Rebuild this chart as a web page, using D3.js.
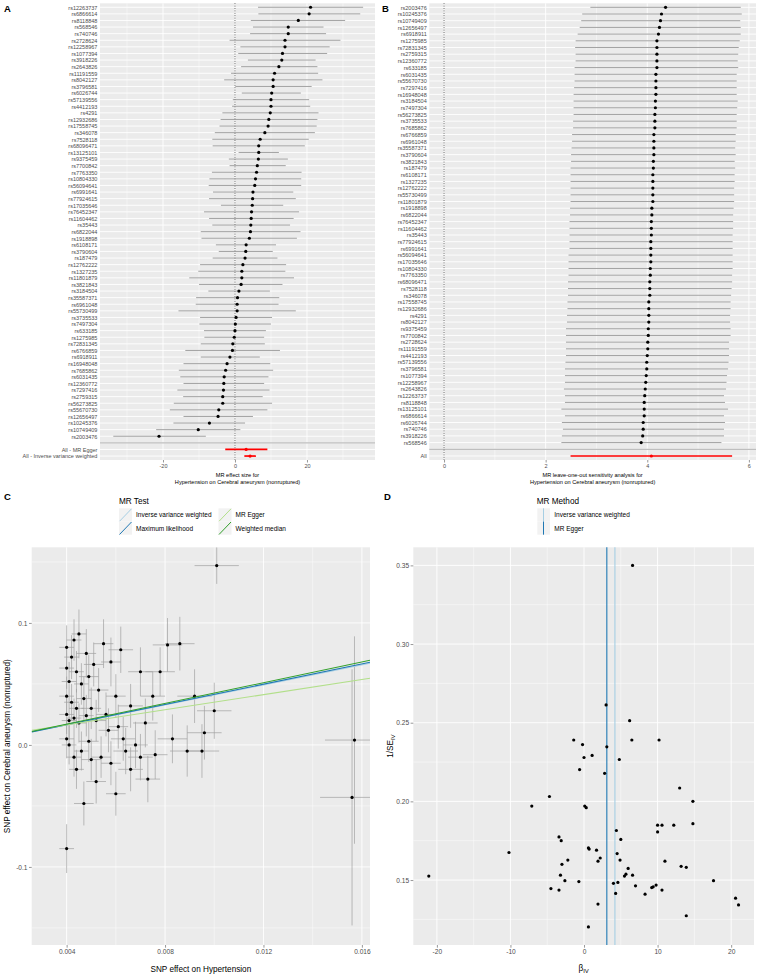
<!DOCTYPE html>
<html>
<head>
<meta charset="utf-8">
<script src="https://cdn.jsdelivr.net/npm/d3@7"></script>
<style>
body { margin: 0; background: #fff; }
text { font-family: "Liberation Sans", Arial, Helvetica, sans-serif; }
</style>
</head>
<body>
<div class="figure"></div>
<script>
/*
----------------------------------------------------------
                   data
----------------------------------------------------------
*/
// A: single SNP MR estimates, top to bottom
var snpA = ["rs12263737","rs6866614","rs8118848","rs568546","rs740746","rs2728624","rs12258967","rs1077394",
    "rs3918226","rs2643826","rs11191559","rs8042127","rs3796581","rs6026744","rs57139556","rs4412193","rs4291",
    "rs12932686","rs17558745","rs346078","rs7528118","rs68096471","rs13125101","rs9375459","rs7700842","rs7763350",
    "rs10804330","rs56094641","rs6991641","rs77924615","rs17035646","rs76452347","rs11604462","rs35443","rs6822044",
    "rs1918898","rs6108171","rs3790604","rs187479","rs12762222","rs1327235","rs11801879","rs3821843","rs3184504",
    "rs35587371","rs6961048","rs55730499","rs3735533","rs7497304","rs633185","rs1275985","rs72831345","rs6766859",
    "rs6918911","rs16948048","rs7685862","rs6031435","rs12360772","rs7297416","rs2759315","rs56273825","rs55670730",
    "rs12656497","rs10245376","rs10749409","rs2003476"];
var bA  = [21.0,20.6,17.6,14.8,14.8,13.9,13.9,13.2,13.0,12.2,11.0,10.6,10.6,10.2,10.0,10.0,9.8,9.4,9.2,8.3,7.0,6.6,
    6.6,6.5,6.2,6.0,5.7,5.5,5.0,4.9,4.8,4.6,4.5,4.4,4.3,4.0,3.1,3.0,2.8,2.2,1.9,1.9,1.7,1.1,0.7,0.6,0.6,0.3,0.1,0.0,
    -0.2,-0.6,-0.7,-1.4,-2.2,-2.6,-3.0,-3.1,-3.2,-3.4,-3.4,-4.5,-4.7,-7.1,-10.2,-21.1];
var loA = [6.4,6.5,4.4,5.0,4.2,-1.5,1.5,0.9,3.6,1.7,-1.1,-3.0,0.1,1.9,-0.6,-0.8,-3.5,-4.0,-4.3,-5.6,-6.3,-6.2,
    1.0,-1.7,-1.5,-6.4,-7.1,-7.3,-6.1,-7.2,-3.9,-8.6,-7.2,-6.3,-9.5,-9.3,-5.3,-4.5,-6.2,-9.7,-10.2,-12.7,-10.0,-7.4,
    -10.8,-10.9,-15.7,-9.7,-9.9,-8.6,-8.5,-9.5,-13.8,-9.5,-14.3,-15.6,-15.2,-14.3,-16.0,-14.4,-17.0,-18.1,-14.3,
    -17.1,-21.9,-33.8];
var upA = [35.6,34.8,30.6,24.6,25.3,29.3,26.3,25.6,22.4,22.9,23.1,24.3,21.3,18.3,20.6,20.9,23.2,22.9,22.7,22.2,
    20.5,19.4,12.2,14.7,14.1,18.5,18.4,18.4,16.2,16.9,13.4,17.8,16.3,15.3,18.2,17.2,11.4,10.5,11.8,14.2,14.0,16.4,
    13.2,9.7,12.3,12.1,16.9,10.3,10.0,8.6,8.1,8.3,12.5,6.9,9.8,10.6,9.3,8.1,9.6,7.7,10.3,9.0,5.0,2.8,1.5,-8.1];
var allLabelsA = ["All - MR Egger", "All - Inverse variance weighted"];
var allBA  = [3.1, 4.2];
var allLoA = [-2.7, 2.6];
var allUpA = [9.0, 5.8];

// B: leave-one-out, top to bottom
var snpB = ["rs2003476","rs10245376","rs10749409","rs12656497","rs6918911","rs1275985","rs72831345","rs2759315",
    "rs12360772","rs633185","rs6031435","rs55670730","rs7297416","rs16948048","rs3184504","rs7497304","rs56273825",
    "rs3735533","rs7685862","rs6766859","rs6961048","rs35587371","rs3790604","rs3821843","rs187479","rs6108171",
    "rs1327235","rs12762222","rs55730499","rs11801879","rs1918898","rs6822044","rs76452347","rs11604462","rs35443",
    "rs77924615","rs6991641","rs56094641","rs17035646","rs10804330","rs7763350","rs68096471","rs7528118","rs346078",
    "rs17558745","rs12932686","rs4291","rs8042127","rs9375459","rs7700842","rs2728624","rs11191559","rs4412193",
    "rs57139556","rs3796581","rs1077394","rs12258967","rs2643826","rs12263737","rs8118848","rs13125101","rs6866614",
    "rs6026744","rs740746","rs3918226","rs568546"];
var bB  = [4.36,4.28,4.26,4.24,4.22,4.19,4.19,4.19,4.19,4.19,4.17,4.17,4.17,4.17,4.16,4.16,4.15,4.15,4.15,4.13,
    4.13,4.13,4.13,4.12,4.12,4.11,4.11,4.11,4.11,4.11,4.09,4.09,4.08,4.08,4.08,4.07,4.07,4.07,4.07,4.06,4.06,4.05,
    4.05,4.05,4.03,4.03,4.03,4.03,4.02,4.02,4.01,4.01,4.00,3.99,3.99,3.98,3.97,3.96,3.95,3.94,3.94,3.94,3.92,3.92,
    3.91,3.88];
var loB = [2.88,2.72,2.70,2.67,2.63,2.59,2.58,2.59,2.59,2.57,2.57,2.57,2.56,2.55,2.55,2.55,2.55,2.54,2.54,2.52,
    2.52,2.51,2.50,2.50,2.49,2.49,2.49,2.49,2.49,2.49,2.48,2.48,2.47,2.47,2.47,2.47,2.47,2.45,2.45,2.45,2.45,2.44,
    2.44,2.44,2.43,2.43,2.42,2.42,2.40,2.40,2.40,2.40,2.40,2.39,2.38,2.38,2.38,2.36,2.38,2.38,2.31,2.38,2.32,2.34,
    2.32,2.31];
var upB = [5.84,5.86,5.83,5.84,5.84,5.82,5.80,5.79,5.78,5.79,5.76,5.76,5.76,5.76,5.78,5.77,5.76,5.76,5.76,5.74,
    5.74,5.73,5.74,5.72,5.73,5.72,5.72,5.71,5.71,5.71,5.70,5.69,5.69,5.69,5.68,5.68,5.68,5.68,5.68,5.68,5.67,5.67,
    5.66,5.65,5.64,5.64,5.63,5.63,5.64,5.64,5.61,5.61,5.61,5.60,5.59,5.57,5.56,5.55,5.51,5.53,5.59,5.51,5.53,5.51,
    5.51,5.46];
var allLabelsB = ["All"];
var allBB  = [4.08];
var allLoB = [2.49];
var allUpB = [5.67];

// C: SNP effects (exposure, outcome) with standard errors
var cBx = [0.0101,0.0040,0.0045,0.0043,0.0042,0.0040,0.0048,0.0051,0.0044,0.0055,0.0041,0.0046,0.0049,0.0058,
    0.0062,0.0070,0.0040,0.0042,0.0044,0.0047,0.0050,0.0053,0.0040,0.0041,0.0043,0.0045,0.0048,0.0052,0.0056,
    0.0060,0.0066,0.0072,0.0075,0.0081,0.0086,0.0078,0.0092,0.0063,0.0068,0.0040,0.0041,0.0043,0.0046,0.0049,
    0.0054,0.0058,0.0064,0.0070,0.0076,0.0083,0.0089,0.0096,0.0100,0.0157,0.0156,0.0040,0.0047,0.0052,0.0060,
    0.0066,0.0073,0.0044,0.0050,0.0057,0.0061,0.0095];
var cBy = [0.147,0.080,0.091,0.086,0.072,0.063,0.075,0.066,0.060,0.083,0.052,0.050,0.056,0.068,0.078,0.060,0.040,
    0.035,0.030,0.038,0.030,0.045,0.025,0.020,0.022,0.018,0.024,0.020,0.025,0.040,0.032,0.018,0.040,0.082,0.083,
    0.060,0.040,0.005,0.000,0.005,0.000,-0.010,-0.005,0.003,-0.010,-0.015,-0.005,-0.010,-0.008,0.005,-0.005,0.010,
    0.028,0.004,-0.043,-0.085,-0.048,-0.030,-0.040,-0.020,-0.028,-0.020,-0.012,0.012,0.015,-0.005];
var cSx = [0.0009,0.0003,0.0003,0.0003,0.0003,0.0003,0.0004,0.0004,0.0003,0.0004,0.0003,0.0003,0.0004,0.0004,
    0.0005,0.0005,0.0003,0.0003,0.0003,0.0003,0.0004,0.0004,0.0003,0.0003,0.0003,0.0003,0.0003,0.0004,0.0004,
    0.0004,0.0005,0.0005,0.0005,0.0006,0.0006,0.0006,0.0007,0.0005,0.0005,0.0003,0.0003,0.0003,0.0003,0.0004,
    0.0004,0.0004,0.0005,0.0005,0.0005,0.0006,0.0007,0.0007,0.0007,0.0012,0.0013,0.0003,0.0004,0.0004,0.0004,
    0.0005,0.0005,0.0003,0.0004,0.0004,0.0004,0.0007];
var cSy = [0.015,0.018,0.020,0.017,0.018,0.017,0.020,0.018,0.017,0.020,0.016,0.017,0.018,0.020,0.019,0.020,0.016,
    0.015,0.016,0.018,0.017,0.018,0.016,0.016,0.016,0.016,0.017,0.017,0.018,0.018,0.018,0.020,0.020,0.022,0.022,
    0.020,0.022,0.018,0.019,0.016,0.016,0.016,0.016,0.017,0.017,0.018,0.019,0.019,0.020,0.020,0.021,0.022,0.023,
    0.085,0.105,0.020,0.018,0.018,0.018,0.018,0.019,0.016,0.017,0.018,0.018,0.022];
var cMethods    = ["Inverse variance weighted", "Maximum likelihood", "MR Egger", "Weighted median"];
var cColors     = ["#a6cee3", "#1f78b4", "#b2df8a", "#33a02c"];
var cSlopes     = [4.1, 4.15, 3.1, 4.25];
var cIntercepts = [0, 0, 0.004, 0];

// D: funnel plot
var dBeta  = bA;
var dInvSe = [0.1342,0.1385,0.1496,0.2000,0.1858,0.1273,0.1581,0.1587,0.2085,0.1849,0.1620,0.1436,0.1849,0.2390,
    0.1849,0.1806,0.1468,0.1457,0.1452,0.1410,0.1463,0.1531,0.3500,0.2390,0.2513,0.1574,0.1537,0.1525,0.1758,0.1627,
    0.2266,0.1485,0.1668,0.1815,0.1415,0.1479,0.2347,0.2613,0.2178,0.1640,0.1620,0.1347,0.1690,0.2292,0.1697,0.1704,
    0.1202,0.1960,0.1970,0.2279,0.2361,0.2202,0.1490,0.2390,0.1627,0.1496,0.1600,0.1750,0.1531,0.1774,0.1436,0.1446,
    0.2031,0.1970,0.1675,0.1525];
var dMethods   = ["Inverse variance weighted", "MR Egger"];
var dColors    = ["#a6cee3", "#1f78b4"];
var dEstimates = [4.2, 3.1];

/*
----------------------------------------------------------
                   helpers
----------------------------------------------------------
*/
var PANEL = "#ebebeb";
var AXTXT = "#4d4d4d";

var svg = d3.select(".figure").append("svg")
    .attr("width", 760).attr("height", 977);

function num(d) { return String(d); }

function grid(g, scale, values, x0, x1, y0, y1, vertical, width) {
    g.selectAll(null).data(values).enter().append("line")
        .attr("x1", function(d) { return vertical ? scale(d) : x0; })
        .attr("x2", function(d) { return vertical ? scale(d) : x1; })
        .attr("y1", function(d) { return vertical ? y0 : scale(d); })
        .attr("y2", function(d) { return vertical ? y1 : scale(d); })
        .attr("stroke", "#fff").attr("stroke-width", width);
}

function styleAxis(ax, size) {
    ax.select(".domain").remove();
    ax.selectAll(".tick line").attr("stroke", "#333").attr("stroke-width", 0.5);
    ax.selectAll(".tick text").attr("fill", AXTXT).attr("font-size", size)
        .attr("font-family", "Liberation Sans, Arial, sans-serif");
}

function letter(t, x, y) {
    svg.append("text").attr("x", x).attr("y", y).text(t)
        .attr("font-size", 9.5).attr("font-weight", "bold");
}

/*
----------------------------------------------------------
                   forest panels (A, B)
----------------------------------------------------------
*/
function Forest(o) {
    var g = svg.append("g");
    var rows = o.snps.concat([""]).concat(o.allLabels);
    var x = d3.scaleLinear().domain(o.domain).range([o.x0, o.x1]);
    var y = d3.scalePoint().domain(rows).range([o.y0, o.y1]).padding(0.6);

    g.append("rect").attr("x", o.x0).attr("y", o.y0)
        .attr("width", o.x1 - o.x0).attr("height", o.y1 - o.y0).attr("fill", PANEL);
    grid(g, x, o.minor, o.x0, o.x1, o.y0, o.y1, true, 0.45);
    grid(g, x, o.ticks, o.x0, o.x1, o.y0, o.y1, true, 0.9);
    grid(g, y, rows, o.x0, o.x1, o.y0, o.y1, false, 0.9);

    // separator between SNPs and summary rows
    g.append("line").attr("x1", o.x0).attr("x2", o.x1)
        .attr("y1", y("")).attr("y2", y(""))
        .attr("stroke", "#bebebe").attr("stroke-width", 1.2);

    g.append("line").attr("x1", x(0)).attr("x2", x(0))
        .attr("y1", o.y0).attr("y2", o.y1)
        .attr("stroke", "#000").attr("stroke-width", 0.7).attr("stroke-dasharray", "0.8,1.6");

    var snpData = o.snps.map(function(s, i) { return {s: s, b: o.b[i], lo: o.lo[i], up: o.up[i]}; });
    var allData = o.allLabels.map(function(s, i) { return {s: s, b: o.allB[i], lo: o.allLo[i], up: o.allUp[i]}; });

    g.selectAll(".bar").data(snpData).enter().append("line")
        .attr("x1", function(d) { return x(d.lo); })
        .attr("x2", function(d) { return x(d.up); })
        .attr("y1", function(d) { return y(d.s); })
        .attr("y2", function(d) { return y(d.s); })
        .attr("stroke", "#8a8a8a").attr("stroke-width", 0.8);
    g.selectAll(".dot").data(snpData).enter().append("circle")
        .attr("cx", function(d) { return x(d.b); })
        .attr("cy", function(d) { return y(d.s); })
        .attr("r", 1.6).attr("fill", "#000");

    g.selectAll(".allbar").data(allData).enter().append("line")
        .attr("x1", function(d) { return x(d.lo); })
        .attr("x2", function(d) { return x(d.up); })
        .attr("y1", function(d) { return y(d.s); })
        .attr("y2", function(d) { return y(d.s); })
        .attr("stroke", "#ff0000").attr("stroke-width", 1.7);
    g.selectAll(".alldot").data(allData).enter().append("circle")
        .attr("cx", function(d) { return x(d.b); })
        .attr("cy", function(d) { return y(d.s); })
        .attr("r", 1.6).attr("fill", "#ff0000");

    var ax = g.append("g").attr("transform", "translate(0," + o.y1 + ")")
        .call(d3.axisBottom(x).tickValues(o.ticks).tickSize(2.5).tickPadding(1.5).tickFormat(num));
    styleAxis(ax, 5.5);

    var ay = g.append("g").attr("transform", "translate(" + o.x0 + ",0)")
        .call(d3.axisLeft(y).tickSize(0).tickPadding(2.6));
    styleAxis(ay, 5.5);

    var cx = (o.x0 + o.x1) / 2;
    o.title.forEach(function(t, i) {
        g.append("text").attr("x", cx).attr("y", o.y1 + 16.5 + i * 7.4)
            .attr("text-anchor", "middle").attr("font-size", 5.6).text(t);
    });
}

letter("A", 4, 12);
Forest({
    snps: snpA, b: bA, lo: loA, up: upA,
    allLabels: allLabelsA, allB: allBA, allLo: allLoA, allUp: allUpA,
    domain: [-37.5, 38.9], x0: 100, x1: 375, y0: 3.3, y1: 460,
    ticks: [-20, 0, 20], minor: [-30, -10, 10, 30],
    title: ["MR effect size for", "Hypertension on Cerebral aneurysm (nonruptured)"]
});

letter("B", 382, 12);
Forest({
    snps: snpB, b: bB, lo: loB, up: upB,
    allLabels: allLabelsB, allB: allBB, allLo: allLoB, allUp: allUpB,
    domain: [-0.29, 6.14], x0: 429.3, x1: 756, y0: 3.3, y1: 460,
    ticks: [0, 2, 4, 6], minor: [1, 3, 5],
    title: ["MR leave-one-out sensitivity analysis for", "Hypertension on Cerebral aneurysm (nonruptured)"]
});

/*
----------------------------------------------------------
                   scatter panel (C)
----------------------------------------------------------
*/
function Scatter() {
    var x0 = 31.7, x1 = 370, y0 = 547.3, y1 = 945;
    var g = svg.append("g");
    var x = d3.scaleLinear().domain([0.00258, 0.01633]).range([x0, x1]);
    var y = d3.scaleLinear().domain([-0.164, 0.162]).range([y1, y0]);

    g.append("rect").attr("x", x0).attr("y", y0).attr("width", x1 - x0).attr("height", y1 - y0).attr("fill", PANEL);
    grid(g, x, [0.006, 0.010, 0.014], x0, x1, y0, y1, true, 0.45);
    grid(g, y, [-0.15, -0.05, 0.05, 0.15], x0, x1, y0, y1, false, 0.45);
    grid(g, x, [0.004, 0.008, 0.012, 0.016], x0, x1, y0, y1, true, 0.9);
    grid(g, y, [-0.1, 0, 0.1], x0, x1, y0, y1, false, 0.9);

    svg.append("clipPath").attr("id", "clipC").append("rect")
        .attr("x", x0).attr("y", y0).attr("width", x1 - x0).attr("height", y1 - y0);

    var pts = cBx.map(function(v, i) { return {x: v, y: cBy[i], sx: cSx[i], sy: cSy[i]}; });
    var bars = g.append("g").attr("clip-path", "url(#clipC)");
    bars.selectAll(".ev").data(pts).enter().append("line")
        .attr("x1", function(d) { return x(d.x); }).attr("x2", function(d) { return x(d.x); })
        .attr("y1", function(d) { return y(d.y - d.sy); }).attr("y2", function(d) { return y(d.y + d.sy); })
        .attr("stroke", "#a0a0a0").attr("stroke-width", 0.7);
    bars.selectAll(".eh").data(pts).enter().append("line")
        .attr("y1", function(d) { return y(d.y); }).attr("y2", function(d) { return y(d.y); })
        .attr("x1", function(d) { return x(d.x - d.sx); }).attr("x2", function(d) { return x(d.x + d.sx); })
        .attr("stroke", "#a0a0a0").attr("stroke-width", 0.7);
    g.selectAll(".pt").data(pts).enter().append("circle")
        .attr("cx", function(d) { return x(d.x); }).attr("cy", function(d) { return y(d.y); })
        .attr("r", 1.6).attr("fill", "#000");

    var lines = g.append("g").attr("clip-path", "url(#clipC)");
    cMethods.forEach(function(m, i) {
        var xs = x.domain();
        lines.append("line")
            .attr("x1", x(xs[0])).attr("y1", y(cIntercepts[i] + cSlopes[i] * xs[0]))
            .attr("x2", x(xs[1])).attr("y2", y(cIntercepts[i] + cSlopes[i] * xs[1]))
            .attr("stroke", cColors[i]).attr("stroke-width", 1.1);
    });

    var ax = g.append("g").attr("transform", "translate(0," + y1 + ")")
        .call(d3.axisBottom(x).tickValues([0.004, 0.008, 0.012, 0.016]).tickSize(2.7).tickPadding(1.5).tickFormat(num));
    styleAxis(ax, 6.6);
    var ay = g.append("g").attr("transform", "translate(" + x0 + ",0)")
        .call(d3.axisLeft(y).tickValues([-0.1, 0, 0.1]).tickSize(2.7).tickPadding(1.5)
            .tickFormat(function(d) { return d.toFixed(1); }));
    styleAxis(ay, 6.6);

    g.append("text").attr("x", (x0 + x1) / 2).attr("y", 972).attr("text-anchor", "middle")
        .attr("font-size", 8.2).text("SNP effect on Hypertension");
    g.append("text").attr("transform", "translate(10," + (y0 + y1) / 2 + ") rotate(-90)")
        .attr("text-anchor", "middle").attr("font-size", 8.2)
        .text("SNP effect on Cerebral aneurysm (nonruptured)");

    // legend
    var lg = g.append("g");
    lg.append("text").attr("x", 119).attr("y", 504).attr("font-size", 8.2).text("MR Test");
    cMethods.forEach(function(m, i) {
        var kx = i < 2 ? 119 : 218.5;
        var ky = 508.3 + (i % 2) * 13.2;
        lg.append("rect").attr("x", kx).attr("y", ky).attr("width", 13).attr("height", 13.2).attr("fill", "#f2f2f2");
        lg.append("line").attr("x1", kx + 0.5).attr("y1", ky + 13).attr("x2", kx + 12.5).attr("y2", ky + 0.5)
            .attr("stroke", cColors[i]).attr("stroke-width", 1);
        lg.append("text").attr("x", kx + 17).attr("y", ky + 9.1).attr("font-size", 6.5).text(m);
    });
}

letter("C", 4, 500);
Scatter();

/*
----------------------------------------------------------
                   funnel panel (D)
----------------------------------------------------------
*/
function Funnel() {
    var x0 = 413.3, x1 = 754, y0 = 547.3, y1 = 945;
    var g = svg.append("g");
    var ext = d3.extent(dBeta), pad = (ext[1] - ext[0]) * 0.05;
    var x = d3.scaleLinear().domain([ext[0] - pad, ext[1] + pad]).range([x0, x1]);
    var eyt = d3.extent(dInvSe), pady = (eyt[1] - eyt[0]) * 0.05;
    var y = d3.scaleLinear().domain([eyt[0] - pady, eyt[1] + pady]).range([y1, y0]);

    g.append("rect").attr("x", x0).attr("y", y0).attr("width", x1 - x0).attr("height", y1 - y0).attr("fill", PANEL);
    grid(g, x, [-15, -5, 5, 15], x0, x1, y0, y1, true, 0.45);
    grid(g, y, [0.125, 0.175, 0.225, 0.275, 0.325], x0, x1, y0, y1, false, 0.45);
    grid(g, x, [-20, -10, 0, 10, 20], x0, x1, y0, y1, true, 0.9);
    grid(g, y, [0.15, 0.2, 0.25, 0.3, 0.35], x0, x1, y0, y1, false, 0.9);

    dEstimates.forEach(function(e, i) {
        g.append("line").attr("x1", x(e)).attr("x2", x(e)).attr("y1", y0).attr("y2", y1)
            .attr("stroke", dColors[i]).attr("stroke-width", 1.1);
    });

    g.selectAll(".pt").data(dBeta).enter().append("circle")
        .attr("cx", function(d) { return x(d); })
        .attr("cy", function(d, i) { return y(dInvSe[i]); })
        .attr("r", 1.6).attr("fill", "#000");

    var ax = g.append("g").attr("transform", "translate(0," + y1 + ")")
        .call(d3.axisBottom(x).tickValues([-20, -10, 0, 10, 20]).tickSize(2.7).tickPadding(1.5).tickFormat(num));
    styleAxis(ax, 6.6);
    var ay = g.append("g").attr("transform", "translate(" + x0 + ",0)")
        .call(d3.axisLeft(y).tickValues([0.15, 0.2, 0.25, 0.3, 0.35]).tickSize(2.7).tickPadding(1.5)
            .tickFormat(function(d) { return d.toFixed(2); }));
    styleAxis(ay, 6.6);

    var xt = g.append("text").attr("x", (x0 + x1) / 2).attr("y", 971).attr("text-anchor", "middle").attr("font-size", 8.2);
    xt.append("tspan").text("β");
    xt.append("tspan").attr("font-size", 6).attr("dy", 2).text("IV");
    var yt = g.append("text").attr("transform", "translate(393," + (y0 + y1) / 2 + ") rotate(-90)")
        .attr("text-anchor", "middle").attr("font-size", 8.2);
    yt.append("tspan").text("1/SE");
    yt.append("tspan").attr("font-size", 6).attr("dy", 2).text("IV");

    var lg = g.append("g");
    lg.append("text").attr("x", 536.7).attr("y", 504).attr("font-size", 8.2).text("MR Method");
    dMethods.forEach(function(m, i) {
        var kx = 537.3, ky = 508.3 + i * 13.2;
        lg.append("rect").attr("x", kx).attr("y", ky).attr("width", 12.7).attr("height", 13.2).attr("fill", "#f2f2f2");
        lg.append("line").attr("x1", kx + 6.2).attr("x2", kx + 6.2).attr("y1", ky).attr("y2", ky + 13.2)
            .attr("stroke", dColors[i]).attr("stroke-width", 1);
        lg.append("text").attr("x", kx + 17).attr("y", ky + 9.1).attr("font-size", 6.5).text(m);
    });
}

letter("D", 384, 500);
Funnel();
</script>
</body>
</html>
